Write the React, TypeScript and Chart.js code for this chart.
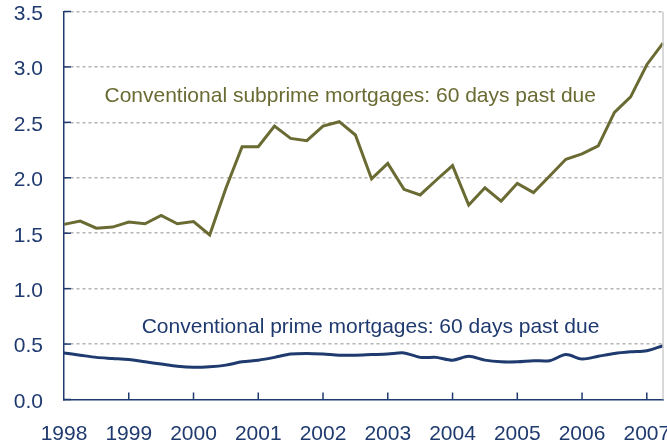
import { useEffect, useRef } from "react";
import { Chart, registerables } from "chart.js";

Chart.register(...registerables);

const quarters = [
  "1998Q1", "1998Q2", "1998Q3", "1998Q4",
  "1999Q1", "1999Q2", "1999Q3", "1999Q4",
  "2000Q1", "2000Q2", "2000Q3", "2000Q4",
  "2001Q1", "2001Q2", "2001Q3", "2001Q4",
  "2002Q1", "2002Q2", "2002Q3", "2002Q4",
  "2003Q1", "2003Q2", "2003Q3", "2003Q4",
  "2004Q1", "2004Q2", "2004Q3", "2004Q4",
  "2005Q1", "2005Q2", "2005Q3", "2005Q4",
  "2006Q1", "2006Q2", "2006Q3", "2006Q4",
  "2007Q1", "2007Q2",
];

const subprime = [
  1.58, 1.61, 1.545, 1.555, 1.6, 1.585, 1.66, 1.585, 1.605, 1.485,
  1.905, 2.28, 2.28, 2.467, 2.355, 2.335, 2.467, 2.506, 2.386, 1.99,
  2.13, 1.896, 1.845, 1.98, 2.11, 1.755, 1.91, 1.79, 1.95, 1.866,
  2.016, 2.167, 2.215, 2.287, 2.59, 2.73, 3.02, 3.215,
];

const prime = [
  0.42, 0.4, 0.38, 0.37, 0.36, 0.34, 0.32, 0.3, 0.29, 0.295,
  0.31, 0.34, 0.355, 0.38, 0.41, 0.415, 0.41, 0.4, 0.4, 0.405,
  0.41, 0.42, 0.38, 0.38, 0.355, 0.39, 0.355, 0.34, 0.34, 0.35,
  0.35, 0.405, 0.365, 0.39, 0.415, 0.43, 0.44, 0.485,
];

const seriesNames = ["Conventional subprime", "Conventional prime"];

const subprimeLabel = "Conventional subprime mortgages: 60 days past due";
const primeLabel = "Conventional prime mortgages: 60 days past due";

const NAVY = "#1f3a6e";
const OLIVE = "#6a6a33";
const GRID = "#b4b4b4";
const FONT = "'Liberation Sans', Arial, sans-serif";

// annotation anchors in data space: [quarter index, value]
const annotations = [
  { text: subprimeLabel, at: [2.5, 2.686], color: OLIVE },
  { text: primeLabel, at: [4.8, 0.597], color: NAVY },
];

const decorPlugin = {
  id: "decor",
  afterDraw(chart: any) {
    const { ctx, chartArea: a, scales } = chart;
    const x = scales.x;
    const y = scales.y;
    ctx.save();
    // right frame
    ctx.strokeStyle = "#cccccc";
    ctx.lineWidth = 1.5;
    ctx.beginPath();
    ctx.moveTo(a.right, a.top);
    ctx.lineTo(a.right, a.bottom);
    ctx.stroke();
    // inward ticks
    ctx.strokeStyle = NAVY;
    ctx.lineWidth = 1.5;
    y.ticks.forEach((t: any) => {
      const py = y.getPixelForValue(t.value);
      ctx.beginPath();
      ctx.moveTo(a.left, py);
      ctx.lineTo(a.left + 7, py);
      ctx.stroke();
    });
    x.ticks.forEach((_t: any, i: number) => {
      if (i % 4 === 0 && i > 0) {
        const px = x.getPixelForTick(i);
        ctx.beginPath();
        ctx.moveTo(px, a.bottom);
        ctx.lineTo(px, a.bottom - 7);
        ctx.stroke();
      }
    });
    // annotations
    ctx.font = `21px ${FONT}`;
    ctx.textAlign = "left";
    ctx.textBaseline = "alphabetic";
    annotations.forEach((an) => {
      const px = x.getPixelForValue(an.at[0]);
      const py = y.getPixelForValue(an.at[1]);
      ctx.fillStyle = an.color;
      ctx.fillText(an.text, px, py);
    });
    ctx.restore();
  },
};

export default function App() {
  const ref = useRef<HTMLCanvasElement>(null);
  useEffect(() => {
    if (!ref.current) return;
    const chart = new Chart(ref.current, {
      type: "line",
      data: {
        labels: quarters,
        datasets: [
          {
            label: seriesNames[0],
            data: subprime,
            borderColor: OLIVE,
            borderWidth: 3,
            pointRadius: 0,
            tension: 0,
            fill: false,
          },
          {
            label: seriesNames[1],
            data: prime,
            borderColor: NAVY,
            borderWidth: 3,
            pointRadius: 0,
            tension: 0.3,
            fill: false,
          },
        ],
      },
      options: {
        responsive: false,
        animation: false,
        devicePixelRatio: 1,
        layout: { padding: { top: 11.5, right: 4, left: 0, bottom: 0 } },
        plugins: {
          legend: { display: false },
          tooltip: { enabled: false },
        },
        scales: {
          x: {
            type: "category",
            offset: false,
            grid: { display: false, drawTicks: false },
            border: { display: true, color: NAVY, width: 1.5 },
            ticks: {
              autoSkip: false,
              maxRotation: 0,
              minRotation: 0,
              padding: 22,
              color: NAVY,
              font: { family: FONT, size: 21 },
              callback: (_v: any, i: number) =>
                i % 4 === 0 ? quarters[i].slice(0, 4) : "",
            },
            afterFit: (s: any) => {
              s.height = 42.5;
              s.paddingLeft = 0;
              s.paddingRight = 0;
            },
          },
          y: {
            min: 0,
            max: 3.5,
            grid: {
              drawTicks: false,
              lineWidth: 1.5,
              color: (c: any) => (c.tick && c.tick.value === 0 ? "rgba(0,0,0,0)" : GRID),
            },
            border: { display: true, color: NAVY, width: 1.5, dash: [3, 3] },
            ticks: {
              stepSize: 0.5,
              padding: 21,
              labelOffset: 2.5,
              color: NAVY,
              font: { family: FONT, size: 21 },
              callback: (v: any) => Number(v).toFixed(1),
            },
            afterFit: (s: any) => {
              s.width = 64;
              s.paddingTop = 0;
              s.paddingBottom = 0;
            },
          },
        },
      },
      plugins: [decorPlugin],
    });
    return () => chart.destroy();
  }, []);
  return (
    <div style={{ position: "fixed", left: 0, top: 0, width: 667, height: 442, background: "#fff" }}>
      <canvas ref={ref} width={667} height={442} />
    </div>
  );
}
